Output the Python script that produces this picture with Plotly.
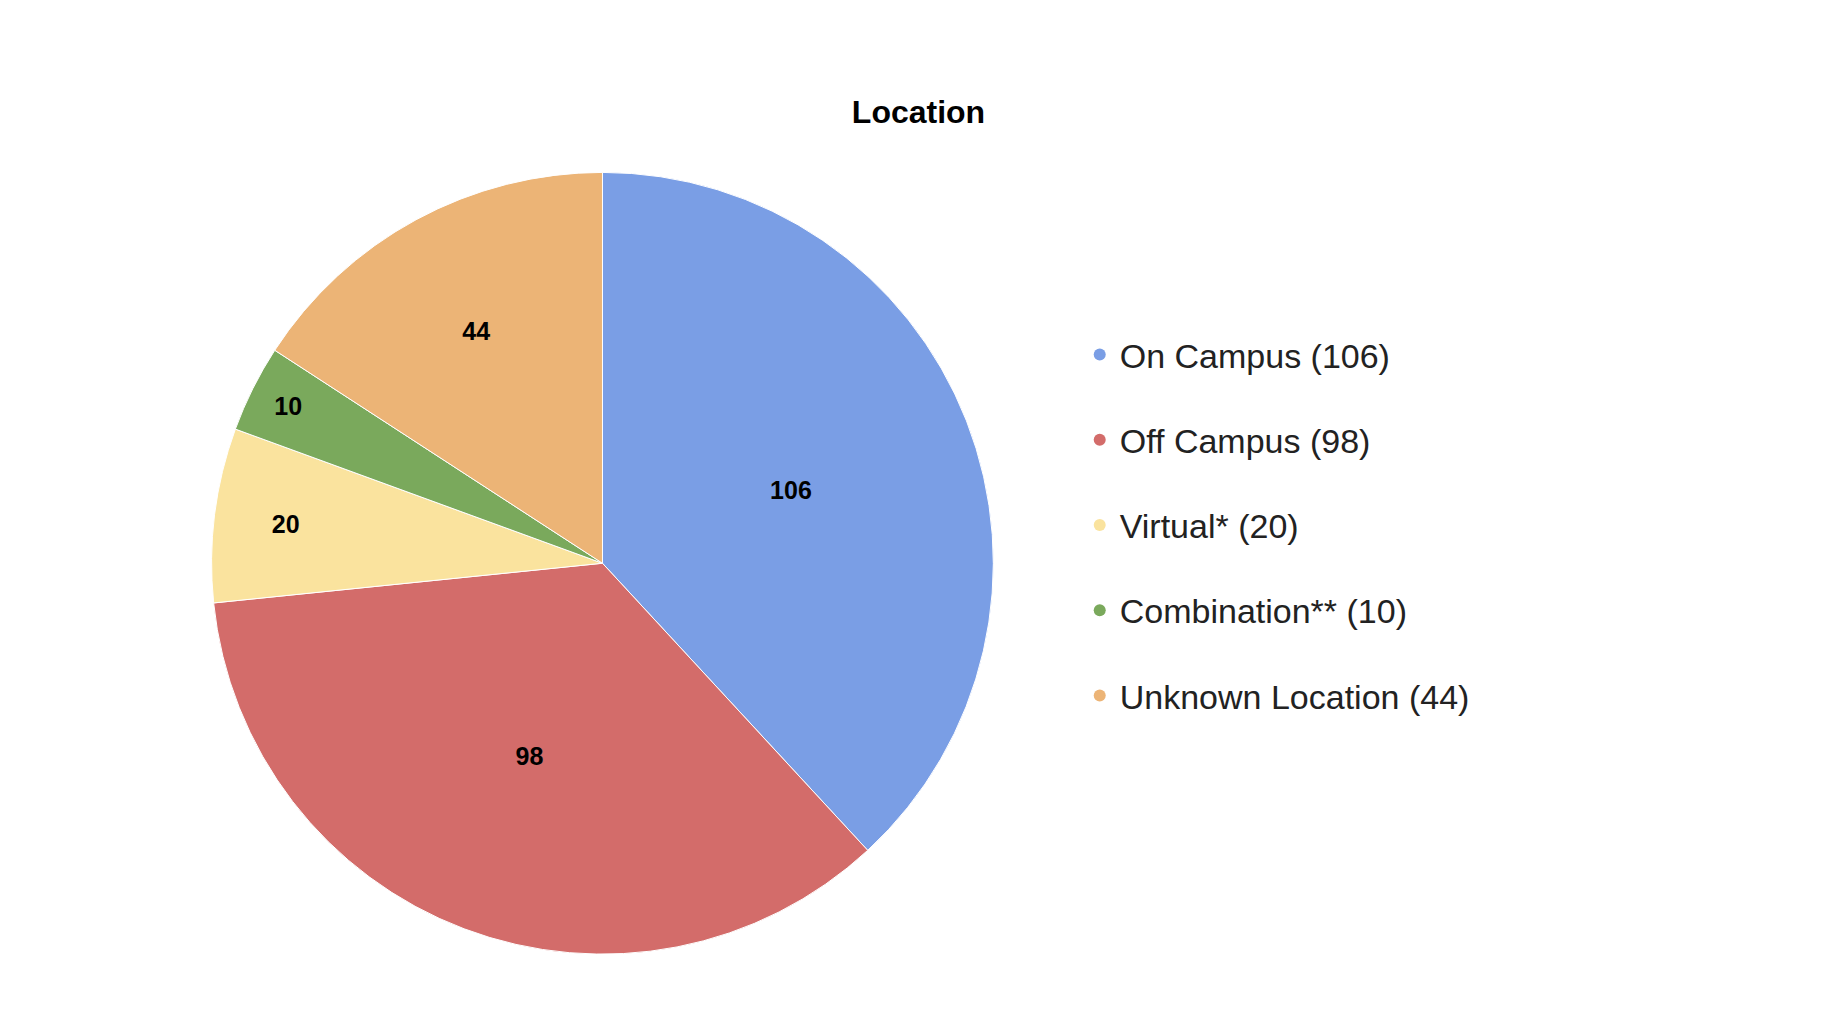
import plotly.graph_objects as go

labels = ["On Campus", "Off Campus", "Virtual*", "Combination**", "Unknown Location"]
values = [106, 98, 20, 10, 44]
colors = ["#7a9ee5", "#d36c6a", "#fae39e", "#7aa95c", "#ecb476"]

fig = go.Figure()
fig.add_trace(go.Pie(
    labels=labels, values=values, sort=False, direction="clockwise", rotation=0,
    marker=dict(colors=colors, line=dict(color="white", width=1)),
    textinfo="value", textposition="inside", insidetextorientation="horizontal",
    textfont=dict(family="Liberation Sans", size=25, color="black", weight="bold"),
    showlegend=False, hoverinfo="label+value",
    domain=dict(x=[0.111, 0.538], y=[0.085, 0.841]),
))
for i, (l, v, c) in enumerate(zip(labels, values, colors)):
    fig.add_trace(go.Scatter(
        x=[None], y=[None], mode="markers", name=f"{l} ({v})",
        marker=dict(symbol="circle", size=22, color=c),
        legendgroup=str(i), showlegend=True,
    ))

fig.update_layout(
    width=1832, height=1034, paper_bgcolor="white", plot_bgcolor="white",
    margin=dict(l=0, r=0, t=0, b=0),
    title=dict(text="<b>Location</b>", x=0.497, xanchor="center", y=0.9, yanchor="middle",
               font=dict(family="Liberation Sans", size=32, color="black")),
    xaxis=dict(visible=False), yaxis=dict(visible=False),
    legend=dict(x=0.585, y=0.5, xanchor="left", yanchor="middle",
                font=dict(family="Liberation Sans", size=34, color="#222"),
                tracegroupgap=38, itemsizing="constant", bgcolor="rgba(0,0,0,0)"),
)
fig.write_html("out.html")
